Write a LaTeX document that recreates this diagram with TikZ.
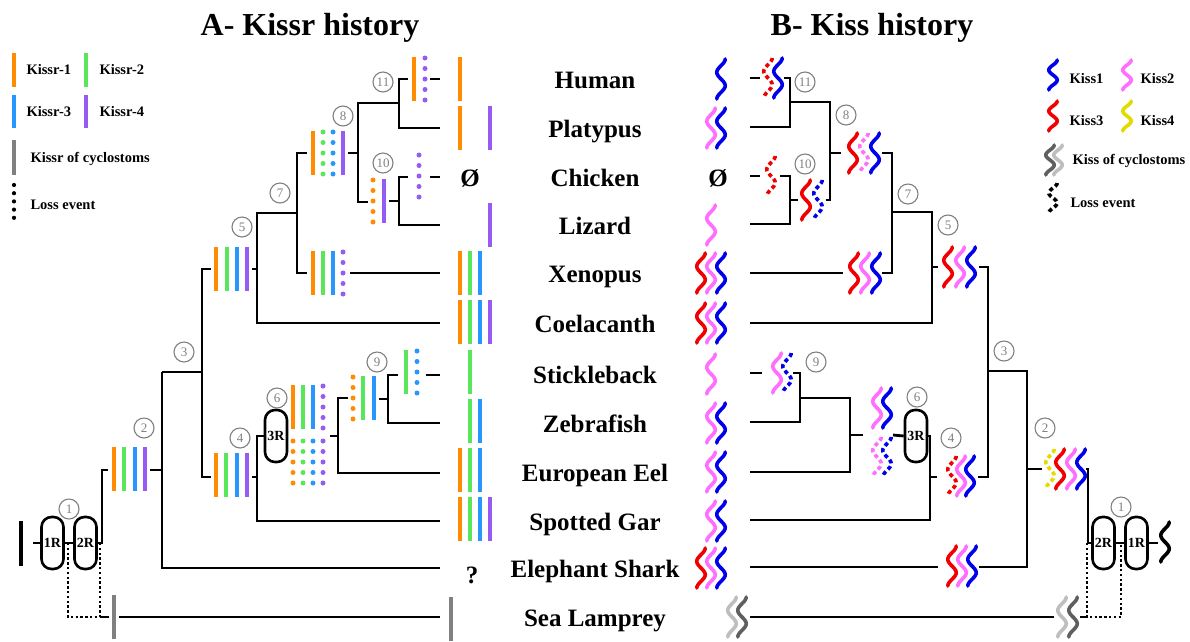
\documentclass[tikz,border=0pt]{standalone}
\usepackage{fontspec}
\setmainfont{Liberation Serif}
\usetikzlibrary{calc}

\definecolor{kr1}{RGB}{255,140,0}
\definecolor{kr2}{RGB}{90,230,90}
\definecolor{kr3}{RGB}{40,150,255}
\definecolor{kr4}{RGB}{150,90,245}
\definecolor{ks1}{RGB}{0,0,235}
\definecolor{ks2}{RGB}{255,110,255}
\definecolor{ks3}{RGB}{240,0,0}
\definecolor{ks4}{RGB}{225,220,0}
\definecolor{cyc}{RGB}{128,128,128}
\definecolor{cycd}{RGB}{95,95,95}
\definecolor{cycl}{RGB}{190,190,190}

\tikzset{
  branch/.style={line width=2.8pt},
  bar/.style={line width=4pt},
  lossline/.style={line width=2.4pt, dash pattern=on 2.4pt off 2.4pt},
  sq/.style={line width=3.6pt, line cap=round},
  sqloss/.style={line width=3.6pt, dash pattern=on 4pt off 3pt},
  num/.style={circle, draw=gray, line width=1.1pt, text=gray, inner sep=0pt,
    minimum size=20pt, font=\fontsize{13}{13}\selectfont},
  dupbox/.style={draw, line width=2.6pt, rounded corners=10pt, minimum width=22pt,
    minimum height=52pt, inner sep=0pt, font=\bfseries\fontsize{14}{14}\selectfont},
  species/.style={anchor=base, font=\bfseries\fontsize{25}{25}\selectfont},
  legend/.style={anchor=base west, font=\bfseries\fontsize{14.5}{14.5}\selectfont},
  title/.style={anchor=base, font=\bfseries\fontsize{32}{32}\selectfont},
}

% receptor bar, loss dots, ligand wiggle
\newcommand{\kbar}[3]{\draw[bar,#3] (#1,#2-22) -- (#1,#2+22);}
\newcommand{\kdots}[3]{\foreach \k in {-2,...,2}{\fill[#3] (#1,{#2+(\k)*10.5}) circle (2.5pt);}}
\newcommand{\ksq}[4][20]{\draw[#4] plot[domain=-#1:#1,samples=31,smooth,variable=\t]
  ({#2+4.2*sin(\t*270/#1)},{#3+\t});}

\begin{document}
\begin{tikzpicture}[x=1pt,y=-1pt]
\useasboundingbox (0,0) rectangle (1190,641);

\node[title] (tA) at (310,35) {A- Kissr history};
\node[title] (tB) at (872,35) {B- Kiss history};

% legend A
\draw[bar,kr1] (14,53) -- (14,87);
\draw[bar,kr2] (86,53) -- (86,87);
\draw[bar,kr3] (14,95) -- (14,128);
\draw[bar,kr4] (86,95) -- (86,128);
\draw[bar,cyc] (14,140) -- (14,175);
\foreach \k in {0,...,4} \fill (14,185+\k*8.2) circle (2.1pt);
\node[legend] (lgA1) at (23,74) {Kissr-1};
\node[legend] (lgA2) at (96,74) {Kissr-2};
\node[legend] (lgA3) at (23,116) {Kissr-3};
\node[legend] (lgA4) at (96,116) {Kissr-4};
\node[legend] (lgAc) at (27,162) {Kissr of cyclostoms};
\node[legend] (lgAl) at (27,209) {Loss event};

% legend B
\ksq[15]{1053}{75}{sq,ks1}
\ksq[15]{1127}{75}{sq,ks2}
\ksq[15]{1053}{116}{sq,ks3}
\ksq[15]{1127}{116}{sq,ks4}
\ksq[15]{1050}{160}{sq,cycd}
\ksq[15]{1058}{160}{sq,cycl}
\ksq[15]{1053}{198}{sqloss,black}
\node[legend] (lgB1) at (1066,83) {Kiss1};
\node[legend] (lgB2) at (1137,83) {Kiss2};
\node[legend] (lgB3) at (1066,125) {Kiss3};
\node[legend] (lgB4) at (1137,125) {Kiss4};
\node[legend] (lgBc) at (1069,164) {Kiss of cyclostoms};
\node[legend] (lgBl) at (1067,207) {Loss event};

% species
\foreach \name/\row [count=\i] in {Human/79, Platypus/128, Chicken/177, Lizard/225,
    Xenopus/273, Coelacanth/323, Stickleback/374, Zebrafish/423, European Eel/472,
    Spotted Gar/521, Elephant Shark/568, Sea Lamprey/617}
  \node[species] (sp\i) at (595,\row+9) {\name};

% tips A
\kbar{460}{79}{kr1}
\kbar{460}{128}{kr1} \kbar{490}{128}{kr4}
\node[species] (nullA) at (470,186) {Ø};
\kbar{490}{225}{kr4}
\kbar{460}{273}{kr1} \kbar{470}{273}{kr2} \kbar{480}{273}{kr3}
\kbar{460}{322}{kr1} \kbar{470}{322}{kr2} \kbar{480}{322}{kr3} \kbar{490}{322}{kr4}
\kbar{470}{372}{kr2}
\kbar{470}{421}{kr2} \kbar{480}{421}{kr3}
\kbar{460}{470}{kr1} \kbar{470}{470}{kr2} \kbar{480}{470}{kr3}
\kbar{460}{519}{kr1} \kbar{470}{519}{kr2} \kbar{480}{519}{kr3} \kbar{490}{519}{kr4}
\node[species] (unkA) at (472,583) {?};
\kbar{451}{619}{cyc}

% tree A
\draw[branch] (408,79) -- (399,79) -- (399,128) -- (440,128);
\draw[branch] (430,79) -- (440,79);
\kbar{414}{79}{kr1} \kdots{425}{79}{kr4}
\draw[branch] (399,103) -- (358,103) -- (358,202) -- (368,202);
\kdots{373}{201}{kr1} \kbar{384}{201}{kr4}
\draw[branch] (389,201) -- (399,201);
\draw[branch] (408,177) -- (399,177) -- (399,225) -- (440,225);
\kdots{419}{176}{kr4}
\draw[branch] (430,177) -- (440,177);
\kbar{313}{153}{kr1} \kdots{323}{153}{kr2} \kdots{333}{153}{kr3} \kbar{343}{153}{kr4}
\draw[branch] (348,153) -- (358,153);
\draw[branch] (307,153) -- (297,153) -- (297,273) -- (307,273);
\kbar{313}{273}{kr1} \kbar{323}{273}{kr2} \kbar{333}{273}{kr3} \kdots{343}{273}{kr4}
\draw[branch] (350,273) -- (440,273);
\draw[branch] (297,213) -- (257,213) -- (257,323) -- (440,323);
\draw[branch] (252,269) -- (257,269);
\kbar{216}{269}{kr1} \kbar{227}{269}{kr2} \kbar{237}{269}{kr3} \kbar{247}{269}{kr4}
\draw[branch] (211,269) -- (202,269) -- (202,477) -- (211,477);
\draw[branch] (162,372) -- (202,372);
\kbar{216}{475}{kr1} \kbar{226}{475}{kr2} \kbar{237}{475}{kr3} \kbar{247}{475}{kr4}
\draw[branch] (252,477) -- (257,477);
\node[dupbox] (A3R) at (276,436) {3R};
\draw[branch] (A3R.west) -- (257,436) -- (257,521) -- (440,521);
\kbar{293}{407}{kr1} \kbar{303}{407}{kr2} \kbar{313}{407}{kr3} \kdots{323}{407}{kr4}
\kdots{293}{462}{kr1} \kdots{303}{462}{kr2} \kdots{313}{462}{kr3} \kdots{323}{462}{kr4}
\draw[branch] (330,436) -- (338,436);
\draw[branch] (348,398) -- (338,398) -- (338,473) -- (440,473);
\kdots{353}{398}{kr1} \kbar{363}{398}{kr2} \kbar{374}{398}{kr3}
\draw[branch] (379,399) -- (388,399);
\draw[branch] (398,375) -- (388,375) -- (388,423) -- (440,423);
\kbar{406}{372}{kr2} \kdots{417}{372}{kr3}
\draw[branch] (426,375) -- (440,375);
\draw[branch] (150,470) -- (162,470);
\draw[branch] (162,372) -- (162,568) -- (440,568);
\kbar{114}{469}{kr1} \kbar{124}{469}{kr2} \kbar{135}{469}{kr3} \kbar{145}{469}{kr4}
\node[dupbox] (A1R) at (52.5,543) {1R};
\node[dupbox] (A2R) at (85.5,543) {2R};
\draw[branch] (108,470) -- (102,470) -- (102,543) -- (A2R.east);
\draw[branch] (A1R.east) -- (A2R.west);
\draw[branch] (33,543) -- (A1R.west);
\draw[line width=4.5pt] (21,521) -- (21,566);
\draw[lossline] (68,543) -- (68,617) -- (100,617) -- (100,543);
\draw[branch] (100,617) -- (109,617);
\kbar{114}{617}{cyc}
\draw[branch] (119,617) -- (440,617);
\foreach \n/\x/\y in {1/69/509, 2/144/428, 3/184/352, 4/240/438, 5/242/227, 6/277/398,
    7/280/193, 8/343/116, 9/377/362, 10/383/163, 11/383/82}
  \node[num] (nA\n) at (\x,\y) {\n};

% tips B
\ksq{721}{79}{sq,ks1}
\ksq{711}{128}{sq,ks2} \ksq{721}{128}{sq,ks1}
\node[species] (nullB) at (718,186) {Ø};
\ksq{711}{225}{sq,ks2}
\ksq{701}{273}{sq,ks3} \ksq{711}{273}{sq,ks2} \ksq{721}{273}{sq,ks1}
\ksq{701}{323}{sq,ks3} \ksq{711}{323}{sq,ks2} \ksq{721}{323}{sq,ks1}
\ksq{711}{374}{sq,ks2}
\ksq{711}{423}{sq,ks2} \ksq{721}{423}{sq,ks1}
\ksq{711}{472}{sq,ks2} \ksq{721}{472}{sq,ks1}
\ksq{711}{521}{sq,ks2} \ksq{721}{521}{sq,ks1}
\ksq{701}{568}{sq,ks3} \ksq{711}{568}{sq,ks2} \ksq{721}{568}{sq,ks1}
\ksq{732}{617}{sq,cycl} \ksq{742}{617}{sq,cycd}

% tree B
\draw[branch] (750,78) -- (760,78);
\ksq{768}{78}{sqloss,ks3} \ksq{778}{78}{sq,ks1}
\draw[branch] (784,78) -- (790,78) -- (790,127) -- (750,127);
\draw[branch] (790,102) -- (830,102) -- (830,200) -- (826,200);
\draw[branch] (750,176) -- (760,176);
\ksq{771}{176}{sqloss,ks3}
\draw[branch] (780,176) -- (790,176) -- (790,224) -- (750,224);
\draw[branch] (790,200) -- (798,200);
\ksq{806}{200}{sq,ks3} \ksq{818}{200}{sqloss,ks1}
\draw[branch] (830,153) -- (841,153);
\ksq{853}{153}{sq,ks3} \ksq{864}{153}{sqloss,ks2} \ksq{875}{153}{sq,ks1}
\draw[branch] (882,153) -- (892,153) -- (892,273) -- (882,273);
\draw[branch] (750,273) -- (843,273);
\ksq{854}{273}{sq,ks3} \ksq{865}{273}{sq,ks2} \ksq{876}{273}{sq,ks1}
\draw[branch] (892,212) -- (932,212) -- (932,323) -- (750,323);
\draw[branch] (932,267) -- (938,267);
\ksq{948}{267}{sq,ks3} \ksq{960}{267}{sq,ks2} \ksq{971}{267}{sq,ks1}
\draw[branch] (979,267) -- (988,267) -- (988,477) -- (978,477);
\draw[branch] (988,371) -- (1027,371) -- (1027,567) -- (979,567);
\draw[branch] (750,373) -- (762,373);
\ksq{777}{373}{sq,ks2} \ksq{787}{373}{sqloss,ks1}
\draw[branch] (793,373) -- (800,373) -- (800,422) -- (750,422);
\draw[branch] (800,398) -- (850,398) -- (850,472) -- (750,472);
\draw[branch] (850,435) -- (863,435);
\ksq{877}{408}{sq,ks2} \ksq{887}{408}{sq,ks1}
\ksq{877}{457}{sqloss,ks2} \ksq{887}{457}{sqloss,ks1}
\node[dupbox] (B3R) at (916,436) {3R};
\draw[branch] (893,435) -- (B3R.west);
\draw[branch] (B3R.east) -- (930,436) -- (930,520) -- (750,520);
\draw[branch] (930,477) -- (937,477);
\ksq{952}{476}{sqloss,ks3} \ksq{961}{476}{sq,ks2} \ksq{970}{476}{sq,ks1}
\draw[branch] (750,567) -- (938,567);
\ksq{952}{566}{sq,ks3} \ksq{962}{566}{sq,ks2} \ksq{972}{566}{sq,ks1}
\draw[branch] (1027,469) -- (1042,469);
\ksq{1050}{469}{sqloss,ks4} \ksq{1060}{469}{sq,ks3} \ksq{1071}{469}{sq,ks2} \ksq{1081}{469}{sq,ks1}
\node[dupbox] (B2R) at (1103.5,543) {2R};
\node[dupbox] (B1R) at (1136.5,543) {1R};
\draw[branch] (1086,469) -- (1088,469) -- (1088,543) -- (B2R.west);
\draw[branch] (B2R.east) -- (B1R.west);
\draw[branch] (B1R.east) -- (1158,543);
\ksq{1165}{542}{sq,black}
\draw[lossline] (1087,543) -- (1087,617) -- (1121,617) -- (1121,543);
\draw[branch] (750,617) -- (1054,617);
\ksq{1062}{617}{sq,cycl} \ksq{1073}{617}{sq,cycd}
\draw[branch] (1080,617) -- (1087,617);
\foreach \n/\x/\y in {1/1121/507, 2/1045/428, 3/1004/351, 4/951/438, 5/948/225, 6/917/397,
    7/908/194, 8/846/115, 9/816/362, 10/805/164, 11/805/82}
  \node[num] (nB\n) at (\x,\y) {\n};
\end{tikzpicture}
\end{document}
